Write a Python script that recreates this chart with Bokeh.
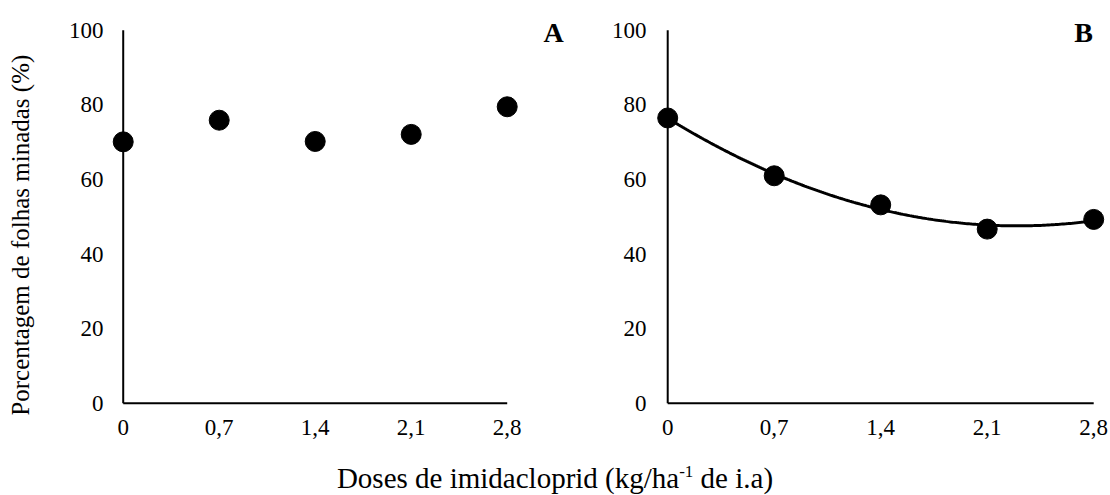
import numpy as np
from bokeh.plotting import figure
from bokeh.models import Range1d, FixedTicker, Label, Div
from bokeh.layouts import row, column
from bokeh.embed import file_html
from bokeh.resources import INLINE

# ---------------- data ----------------
doses = [0, 0.7, 1.4, 2.1, 2.8]
dose_labels = ["0", "0,7", "1,4", "2,1", "2,8"]
pct_A = [70.1, 75.9, 70.2, 72.1, 79.5]
pct_B = [76.5, 61.0, 53.2, 46.7, 49.3]
y_ticks = [0, 20, 40, 60, 80, 100]
y_title = "Porcentagem de folhas minadas (%)"
x_title_html = "Doses de imidacloprid (kg/ha<sup style='font-size:17px'>-1</sup> de i.a)"

FONT = "Liberation Serif"
TICK_SIZE = "23px"

# layout constants (pixels)
TOP = 19
FRAME_H = 395
Y_PX = 3.73          # px per percentage unit
Y_START = -3.0
Y_END = Y_START + FRAME_H / Y_PX
BOTTOM = 31
PANEL_H = TOP + FRAME_H + BOTTOM
TITLE_W = 40


def make_panel(frame_w, x_px, border_left, border_right, yvals, letter,
               letter_px, fit=False):
    x_start = -0.1
    x_end = x_start + frame_w / x_px
    p = figure(frame_width=frame_w, frame_height=FRAME_H,
               x_range=Range1d(x_start, x_end), y_range=Range1d(Y_START, Y_END),
               output_backend="svg", toolbar_location=None,
               min_border_left=border_left, min_border_right=border_right,
               min_border_top=TOP, min_border_bottom=BOTTOM)
    p.outline_line_color = None
    p.grid.visible = False
    p.background_fill_color = "white"
    p.border_fill_color = "white"

    for ax in (p.xaxis[0], p.yaxis[0]):
        ax.axis_line_color = None
        ax.major_tick_line_color = None
        ax.minor_tick_line_color = None
        ax.major_tick_out = 0
        ax.major_tick_in = 0
        ax.major_label_text_font = FONT
        ax.major_label_text_font_size = TICK_SIZE
        ax.major_label_text_color = "black"
    p.xaxis.ticker = FixedTicker(ticks=doses)
    p.xaxis.major_label_overrides = {d: l for d, l in zip(doses, dose_labels)}
    p.xaxis.major_label_standoff = 5
    p.yaxis.ticker = FixedTicker(ticks=y_ticks)
    p.yaxis.major_label_standoff = 6

    # axis lines at x = 0 and y = 0
    p.segment(x0=[doses[0], doses[0]], y0=[y_ticks[0], y_ticks[0]],
              x1=[doses[0], doses[-1]], y1=[y_ticks[-1], y_ticks[0]],
              line_color="black", line_width=2)

    if fit:
        coef = np.polyfit(doses, yvals, 2)
        xs = np.linspace(doses[0], doses[-1], 200)
        p.line(xs, np.polyval(coef, xs), line_color="black", line_width=3)
    p.scatter(doses, yvals, size=20, fill_color="black", line_color="black")

    lx = x_start + (letter_px[0] - border_left) / x_px
    ly = Y_END - (letter_px[1] - TOP) / Y_PX
    p.add_layout(Label(x=lx, y=ly, text=letter, text_font=FONT,
                       text_font_size="28px", text_font_style="bold",
                       text_align="center", text_baseline="middle",
                       text_color="black"))
    return p


# narrow strip holding the shared y-axis title
pT = figure(width=TITLE_W, height=PANEL_H, x_range=Range1d(0, TITLE_W),
            y_range=Range1d(0, PANEL_H), output_backend="svg",
            toolbar_location=None, x_axis_location=None, y_axis_location=None,
            min_border=0)
pT.outline_line_color = None
pT.grid.visible = False
pT.border_fill_color = "white"
pT.add_layout(Label(x=20, y=PANEL_H - 243, text=y_title, text_font=FONT,
                    text_font_size="25px", angle=np.pi / 2,
                    text_align="center", text_baseline="middle",
                    text_color="black"))

pA = make_panel(466, 137.14, 109 - TITLE_W, 5, pct_A, "A", (553 - TITLE_W, 32))
pB = make_panel(456, 152.14, 72, 2, pct_B, "B", (503, 32), fit=True)

title = Div(text=("<div style=\"width:1110px;text-align:center;font-family:'Liberation Serif';"
                  "font-size:29px;line-height:30px;padding-top:12px;color:black;\">"
                  + x_title_html + "</div>"),
            width=1110, height=50, margin=0,
            styles={"text-align": "center"})

layout = column(row(pT, pA, pB, spacing=0), title, spacing=0)

open("out.html", "w").write(file_html(layout, INLINE))
